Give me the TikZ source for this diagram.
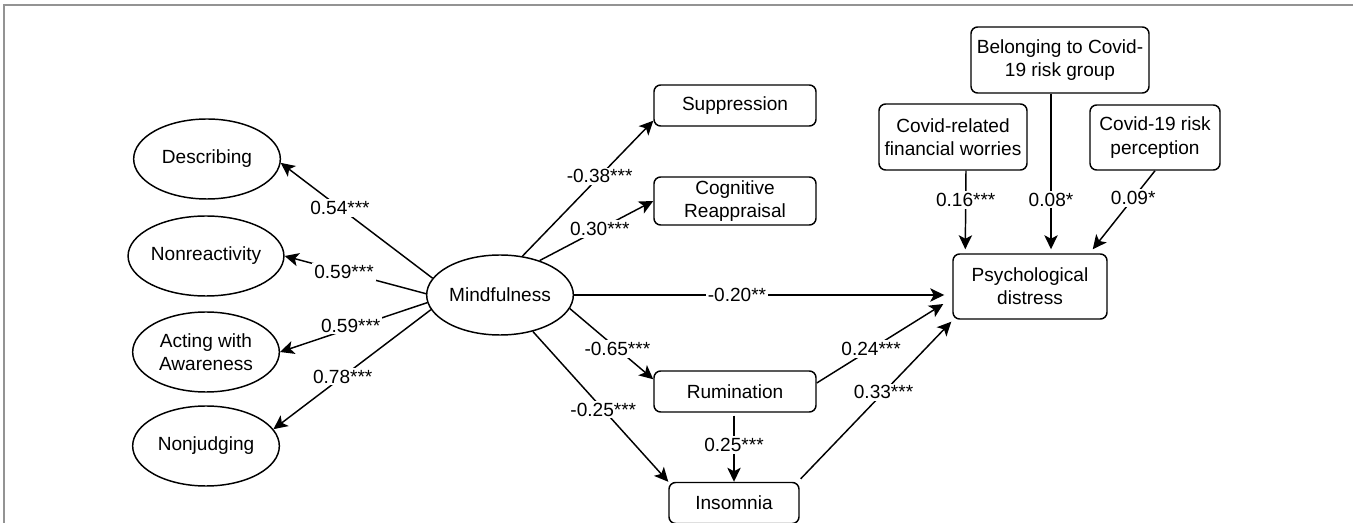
\documentclass[tikz,border=0pt]{standalone}
\usepackage{fontspec}
\setmainfont{Liberation Sans}
\usetikzlibrary{arrows.meta,shapes.geometric,calc}
\begin{document}
\begin{tikzpicture}[x=0.75pt,y=-0.75pt,
  every node/.style={font=\fontsize{14.3}{17.4}\selectfont},
  ell/.style={draw, ellipse, inner sep=0pt, line width=1.1pt, align=center, minimum width=110pt, minimum height=60pt},
  box/.style={draw, rounded corners=5pt, inner sep=0pt, line width=1.1pt, align=center},
  con/.style={line width=1.1pt, -{Stealth[length=10.5pt,width=10pt,inset=2.6pt]}},
  lab/.style={fill=white, inner sep=1.5pt}]
\useasboundingbox (0,0) rectangle (1353,523);
\draw[gray!85, line width=1.1pt] (1353,5) -- (4,5) -- (4,523);

% latent variables
\node[ell] (desc) at (207,159) {Describing};
\node[ell] (nonr) at (206,256) {Nonreactivity};
\node[ell] (act)  at (206,352) {Acting with\\Awareness};
\node[ell] (nonj) at (206,446) {Nonjudging};
\node[ell] (mind) at (500,295) {Mindfulness};

% observed variables
\node[box, minimum width=121.5pt, minimum height=30.75pt] (supp) at (735,105.5) {Suppression};
\node[box, minimum width=121.5pt, minimum height=36pt]    (cogn) at (735,201) {Cognitive\\Reappraisal};
\node[box, minimum width=121.5pt, minimum height=30.75pt] (rumi) at (735,391.5) {Rumination};
\node[box, minimum width=97.5pt,  minimum height=30.75pt] (inso) at (734,503) {Insomnia};
\node[box, minimum width=115.5pt, minimum height=48.75pt] (psy)  at (1030,286.5) {Psychological\\distress};
\node[box, minimum width=111pt,   minimum height=49.5pt]  (fin)  at (953,137) {Covid-related\\financial worries};
\node[box, minimum width=133.5pt, minimum height=49.5pt]  (bel)  at (1060,60) {Belonging to Covid-\\19 risk group};
\node[box, minimum width=97.5pt,  minimum height=48.75pt] (risk) at (1155,137.5) {Covid-19 risk\\perception};

% loadings
\draw[con] (mind.166) -- node[lab,pos=0.61]{0.54***} (desc.-3);
\draw[con] (mind.179) -- node[lab,pos=0.58]{0.59***} (nonr.east);
\draw[con] (mind.186) -- node[lab,pos=0.52,yshift=2pt]{0.59***} (act.east);
\draw[con] (mind.192) -- node[lab,pos=0.56]{0.78***} (nonj.14);

% paths
\draw[con] (mind.60) -- node[lab,pos=0.59]{-0.38***} ($(supp.south west)+(0,-6)$);
\draw[con] (mind.41) -- node[lab,pos=0.53]{0.30***} (cogn.west);
\draw[con] (mind.east) -- node[lab,pos=0.44]{-0.20**} ($(psy.west)+(-8,8.5)$);
\draw[con] (mind.349) -- node[lab,pos=0.57]{-0.65***} ($(rumi.north west)+(0,9)$);
\draw[con] (mind.312) -- node[lab,pos=0.52]{-0.25***} (inso.north west);
\draw[con] ($(rumi.south)+(-1,3)$) -- node[lab,pos=0.44]{0.25***} (inso.north);
\draw[con] ($(rumi.east)+(0,-8.5)$) -- node[lab,pos=0.43]{0.24***} ($(psy.west)+(-9,17.5)$);
\draw[con] ($(inso.north east)+(1,-3)$) -- node[lab,pos=0.55]{0.33***} ($(psy.south west)+(-1,2)$);
\draw[con] ($(fin.south)+(13,0)$) -- node[lab,pos=0.37]{0.16***} ($(psy.north west)+(13,-4)$);
\draw[con] ($(bel.south)+(-9,0)$) -- node[lab,pos=0.68]{0.08*} ($(psy.north)+(21,-4)$);
\draw[con] (risk.south) -- node[lab,pos=0.35]{0.09*} ($(psy.north east)+(-15,-4)$);
\end{tikzpicture}
\end{document}
